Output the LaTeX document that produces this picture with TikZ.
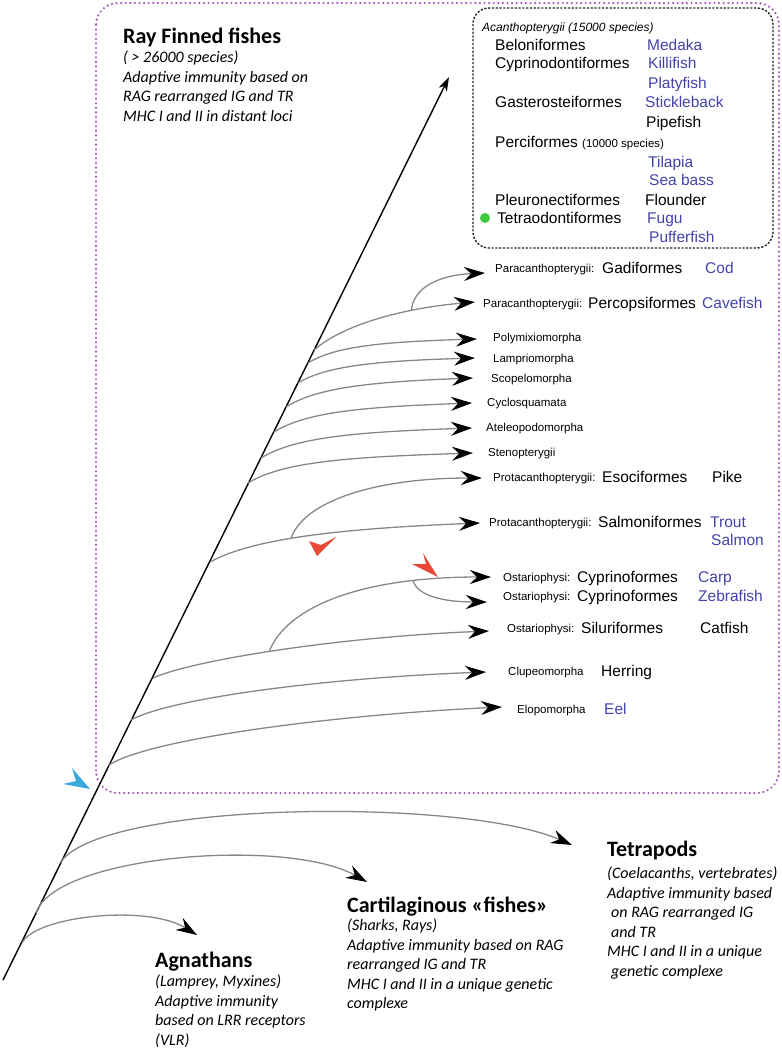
\documentclass[tikz,border=0pt]{standalone}
\usepackage{fontspec}
\setmainfont{Liberation Sans}
\newfontfamily\calibri{Carlito}
\usepackage{tikz}
\usetikzlibrary{positioning, arrows.meta}
\definecolor{fishblue}{RGB}{66, 66, 170}
\definecolor{clade}{RGB}{168, 84, 186}
\definecolor{branchgray}{RGB}{135, 135, 135}
\definecolor{marker}{RGB}{232, 72, 52}
\definecolor{origin}{RGB}{58, 168, 218}
\definecolor{gooddot}{RGB}{62, 200, 62}

\begin{document}
\begin{tikzpicture}[
    x=1pt, y=-1pt,
    every node/.style={inner sep=0pt, anchor=base west},
    sp/.style={font=\fontsize{15.5}{19}\selectfont},
    sm/.style={font=\fontsize{11.5}{14}\selectfont},
    cn/.style={sp, text=fishblue},
    grp/.style={font=\calibri\bfseries\fontsize{22}{26}\selectfont},
    note/.style={font=\calibri\itshape\fontsize{16}{19.5}\selectfont, align=left, anchor=north west},
    stem/.style={line width=1.4pt, -{Stealth[length=14pt, width=9pt, inset=4pt]}},
    branch/.style={line width=1.3pt, draw=branchgray,
                   -{Stealth[length=21pt, width=14pt, inset=7pt, color=black]}}
]
\useasboundingbox (0,0) rectangle (782,1050);

% Clade frames
\draw[clade, line width=2.4pt, line cap=round, dash pattern=on 0pt off 4.6pt,
      rounded corners=22pt] (96,3) rectangle (779,793);
\draw[black!85, line width=1.4pt, dash pattern=on 2.2pt off 1.6pt,
      rounded corners=16pt] (473,8) rectangle (773,248);

% Main stem
\coordinate (root) at (3,980);
\coordinate (apex) at (449,77);
\draw[stem] (root) -- (apex);

% Ray finned fishes
\node[grp] (ray) at (123,43) {Ray Finned fishes};
\node[below=8pt of ray.base west, note] (rayNote)
    {( > 26000 species)\\Adaptive immunity based on\\RAG rearranged IG and TR\\MHC I and II in distant loci};

% Acanthopterygii
\node[font=\itshape\fontsize{12}{14}\selectfont] (acanth) at (482,31) {Acanthopterygii (15000 species)};
\node[sp] (belon)  at (495,50)  {Beloniformes};       \node[cn] (medaka)  at (647,50)  {Medaka};
\node[sp] (cypdon) at (495,68)  {Cyprinodontiformes}; \node[cn] (killi)   at (648,68)  {Killifish};
\node[cn] (platy)  at (648,88)  {Platyfish};
\node[sp] (gaster) at (495,107) {Gasterosteiformes};  \node[cn] (stickle) at (645,107) {Stickleback};
\node[sp] (pipe)   at (646,127) {Pipefish};
\node[sp] (perci)  at (495,147) {Perciformes {\fontsize{11.5}{14}\selectfont(10000 species)}};
\node[cn] (tilapia) at (648,167) {Tilapia};
\node[cn] (seabass) at (649,185) {Sea bass};
\node[sp] (pleuro) at (495,205) {Pleuronectiformes};  \node[sp] (flounder) at (645,205) {Flounder};
\node[sp] (tetrao) at (497,223) {Tetraodontiformes};  \node[cn] (fugu)    at (647,223) {Fugu};
\node[cn] (puffer) at (649,242) {Pufferfish};
\fill[gooddot] (485,218) circle (5pt);

% Branch starts on the stem
\coordinate (sPara)  at (314,350);
\coordinate (sPoly)  at (308,363);
\coordinate (sLamp)  at (298,383);
\coordinate (sScop)  at (286,407);
\coordinate (sCycl)  at (274,432);
\coordinate (sAtel)  at (261,458);
\coordinate (sSten)  at (248,483);
\coordinate (sProt)  at (210,562);
\coordinate (sOsta)  at (153,678);
\coordinate (sClup)  at (131,720);
\coordinate (sElop)  at (109,765);
\coordinate (sTetra) at (60,863);
\coordinate (sCart)  at (36,913);
\coordinate (sAgna)  at (22,943);

% Branch tips
\coordinate (tGadi)  at (485,273);
\coordinate (tPerc)  at (475,302);
\coordinate (tPoly)  at (477,339);
\coordinate (tLamp)  at (475,358);
\coordinate (tScop)  at (473,378);
\coordinate (tCycl)  at (472,403);
\coordinate (tAtel)  at (472,428);
\coordinate (tSten)  at (473,453);
\coordinate (tEsoc)  at (482,478);
\coordinate (tSalm)  at (480,523);
\coordinate (tCarp)  at (491,577);
\coordinate (tZebra) at (487,602);
\coordinate (tSilu)  at (489,631);
\coordinate (tClup)  at (486,672);
\coordinate (tElop)  at (502,707);
\coordinate (tTetra) at (572,845);
\coordinate (tCart)  at (367,882);
\coordinate (tAgna)  at (197,935);

% Paracanthopterygii
\draw[branch] (sPara) .. controls +(30,-26) and +(-70,6) .. (tPerc) coordinate[pos=0.68] (kPara);
\draw[branch] (kPara) .. controls +(2,-24) and +(-45,2) .. (tGadi);

% Single lineages
\draw[branch] (sPoly) .. controls +(26,-16) and +(-100,3) .. (tPoly);
\draw[branch] (sLamp) .. controls +(28,-17) and +(-100,3) .. (tLamp);
\draw[branch] (sScop) .. controls +(30,-19) and +(-105,4) .. (tScop);
\draw[branch] (sCycl) .. controls +(32,-20) and +(-110,4) .. (tCycl);
\draw[branch] (sAtel) .. controls +(34,-21) and +(-115,4) .. (tAtel);
\draw[branch] (sSten) .. controls +(36,-22) and +(-120,4) .. (tSten);

% Protacanthopterygii
\draw[branch] (sProt) .. controls +(40,-22) and +(-150,6) .. (tSalm) coordinate[pos=0.45] (kProt);
\draw[branch] (kProt) .. controls +(12,-36) and +(-110,0) .. (tEsoc);

% Ostariophysi
\draw[branch] (sOsta) .. controls +(40,-18) and +(-150,6) .. (tSilu) coordinate[pos=0.47] (kOsta);
\draw[branch] (kOsta) .. controls +(18,-45) and +(-130,0) .. (tCarp) coordinate[pos=0.78] (kCypr);
\draw[branch] (kCypr) .. controls +(4,14) and +(-45,0) .. (tZebra);

% Clupeomorpha, Elopomorpha
\draw[branch] (sClup) .. controls +(40,-22) and +(-160,6) .. (tClup);
\draw[branch] (sElop) .. controls +(40,-26) and +(-170,8) .. (tElop);

% Other vertebrates
\draw[branch] (sTetra) .. controls +(40,-62) and +(-110,-48) .. (tTetra);
\draw[branch] (sCart)  .. controls +(19,-58) and +(-80,-45) .. (tCart);
\draw[branch] (sAgna)  .. controls +(13,-27) and +(-50,-31) .. (tAgna);

% Branch labels
\node[sm] (gadiC) at (495,272) {Paracanthopterygii:}; \node[sp] (gadi) at (602,273) {Gadiformes};
\node[cn] (cod) at (705,273) {Cod};
\node[sm] (percC) at (483,307) {Paracanthopterygii:}; \node[sp] (perc) at (588,308) {Percopsiformes};
\node[cn] (cave) at (702,308) {Cavefish};
\node[sm] (poly) at (493,341) {Polymixiomorpha};
\node[sm] (lamp) at (493,362) {Lampriomorpha};
\node[sm] (scop) at (491,382) {Scopelomorpha};
\node[sm] (cycl) at (487,406) {Cyclosquamata};
\node[sm] (atel) at (486,431) {Ateleopodomorpha};
\node[sm] (sten) at (488,456) {Stenopterygii};
\node[sm] (esocC) at (493,481) {Protacanthopterygii:}; \node[sp] (esoc) at (602,482) {Esociformes};
\node[sp] (pike) at (712,482) {Pike};
\node[sm] (salmC) at (489,526) {Protacanthopterygii:}; \node[sp] (salm) at (598,527) {Salmoniformes};
\node[cn] (trout) at (710,527) {Trout};
\node[cn] (salmon) at (711,545) {Salmon};
\node[sm] (carpC) at (503,581) {Ostariophysi:}; \node[sp] (carpO) at (577,582) {Cyprinoformes};
\node[cn] (carp) at (698,582) {Carp};
\node[sm] (zebC) at (503,600) {Ostariophysi:}; \node[sp] (zebO) at (577,601) {Cyprinoformes};
\node[cn] (zebra) at (698,601) {Zebrafish};
\node[sm] (siluC) at (507,632) {Ostariophysi:}; \node[sp] (silu) at (581,633) {Siluriformes};
\node[sp] (catfish) at (700,633) {Catfish};
\node[sm] (clup) at (508,675) {Clupeomorpha}; \node[sp] (herring) at (601,676) {Herring};
\node[sm] (elop) at (517,713) {Elopomorpha};  \node[cn] (eel) at (604,714) {Eel};

% Lower groups
\node[grp] (tetra) at (607,856) {Tetrapods};
\node[below=11pt of tetra.base west, note] (tetraNote)
    {(Coelacanths, vertebrates)\\Adaptive immunity based\\\hspace{4pt}on RAG rearranged IG\\\hspace{4pt}and TR\\MHC I and II in a unique\\\hspace{4pt}genetic complexe};
\node[grp] (cart) at (347,912) {Cartilaginous «fishes»};
\node[below=7pt of cart.base west, note] (cartNote)
    {(Sharks, Rays)\\Adaptive immunity based on RAG\\rearranged IG and TR\\MHC I and II in a unique genetic\\complexe};
\node[grp] (agna) at (155,967) {Agnathans};
\node[below=8pt of agna.base west, note] (agnaNote)
    {(Lamprey, Myxines)\\Adaptive immunity\\based on LRR receptors\\(VLR)};

% Markers
\fill[marker] (317,556) -- (309,541) -- (321,545) -- (336,537) -- cycle;
\fill[marker] (438,577) -- (423,553) -- (426,564) -- (412,564) -- cycle;
\fill[origin] (90,789) -- (72,768) -- (76,781) -- (63,784) -- cycle;

\end{tikzpicture}
\end{document}
